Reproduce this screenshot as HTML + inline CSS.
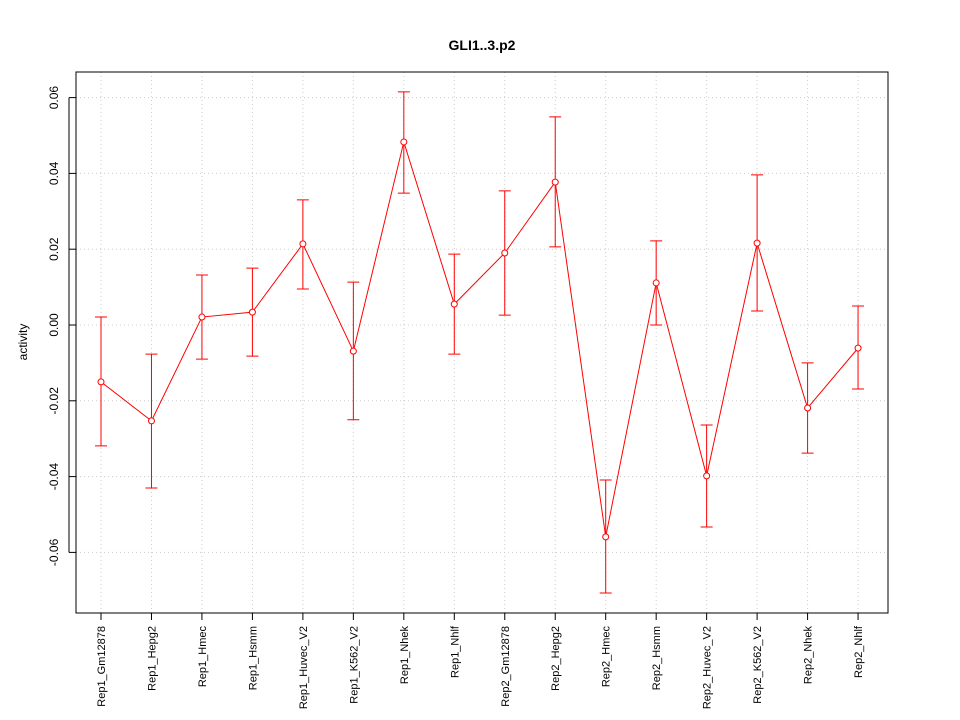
<!DOCTYPE html>
<html><head><meta charset="utf-8"><style>body{margin:0;background:#fff}svg{display:block;font-family:"Liberation Sans",sans-serif}</style></head>
<body>
<svg id="chart" width="960" height="720">
<rect width="960" height="720" fill="#fff"/>
<text x="482" y="50" text-anchor="middle" font-size="14" font-weight="bold">GLI1..3.p2</text>
<text transform="translate(27,342) rotate(-90)" text-anchor="middle" font-size="12">activity</text>
<g id="grid"></g><g id="axes"></g><g id="marks"></g>
<rect x="76" y="72" width="812" height="541" fill="none" stroke="#000"/>
</svg>
<script>
const categories=["Rep1_Gm12878","Rep1_Hepg2","Rep1_Hmec","Rep1_Hsmm","Rep1_Huvec_V2","Rep1_K562_V2","Rep1_Nhek","Rep1_Nhlf","Rep2_Gm12878","Rep2_Hepg2","Rep2_Hmec","Rep2_Hsmm","Rep2_Huvec_V2","Rep2_K562_V2","Rep2_Nhek","Rep2_Nhlf"];
const values=[-0.0150,-0.0253,0.0021,0.0034,0.0214,-0.0069,0.0483,0.0055,0.0190,0.0377,-0.0559,0.0111,-0.0398,0.0216,-0.0219,-0.0061];
const upper=[0.0021,-0.0077,0.0132,0.0150,0.0330,0.0113,0.0615,0.0187,0.0354,0.0549,-0.0409,0.0222,-0.0264,0.0396,-0.0100,0.0050];
const lower=[-0.0319,-0.0430,-0.0090,-0.0082,0.0095,-0.0250,0.0348,-0.0077,0.0026,0.0206,-0.0707,0.0000,-0.0533,0.0037,-0.0338,-0.0169];
const yTicks=[-0.06,-0.04,-0.02,0.00,0.02,0.04,0.06];
const yTickLabels=["-0.06","-0.04","-0.02","0.00","0.02","0.04","0.06"];
const NS="http://www.w3.org/2000/svg";
const y=v=>325-v*3790;
const x=i=>101+i*50.47;
function mk(p,t,a){const e=document.createElementNS(NS,t);for(const k in a)e.setAttribute(k,a[k]);p.appendChild(e);return e;}
const grid=document.getElementById('grid'),axes=document.getElementById('axes'),marks=document.getElementById('marks');
yTicks.forEach((v,i)=>{
 const g=mk(grid,'line',{x1:76,x2:888,y1:y(v),y2:y(v),stroke:'#ccc','stroke-dasharray':'1,3'});
 
 
 const t=mk(axes,'line',{x1:69,x2:76,y1:y(v),y2:y(v),stroke:'#000'});
 
 
 const l=mk(axes,'text',{transform:`translate(58,${y(v)}) rotate(-90)`,'text-anchor':'middle','font-size':12});
 l.textContent=yTickLabels[i];
 
 
});
mk(axes,'line',{x1:69,x2:69,y1:y(yTicks[0]),y2:y(yTicks[yTicks.length-1]),stroke:'#000'});
categories.forEach((c,i)=>{
 const g=mk(grid,'line',{x1:x(i),x2:x(i),y1:72,y2:613,stroke:'#ccc','stroke-dasharray':'1,3'});
 
 
 const t=mk(axes,'line',{x1:x(i),x2:x(i),y1:613,y2:620,stroke:'#000'});
 
 
 const l=mk(axes,'text',{transform:`translate(${x(i)+4},626) rotate(-90)`,'text-anchor':'end','font-size':11});
 l.textContent=c;
 
 
});
mk(axes,'line',{x1:x(0),x2:x(categories.length-1),y1:613,y2:613,stroke:'#000'});
const pl=mk(marks,'polyline',{points:values.map((v,i)=>x(i)+','+y(v)).join(' '),fill:'none',stroke:'#ff0000'});


values.forEach((v,i)=>{
 const e=mk(marks,'path',{d:`M${x(i)},${y(upper[i])}V${y(lower[i])}M${x(i)-6},${y(upper[i])}H${x(i)+6}M${x(i)-6},${y(lower[i])}H${x(i)+6}`,stroke:'#ff0000',fill:'none'});
 
 
 const p=mk(marks,'circle',{cx:x(i),cy:y(v),r:3,fill:'#fff',stroke:'#ff0000'});
 
 
});
</script>
</body></html>
